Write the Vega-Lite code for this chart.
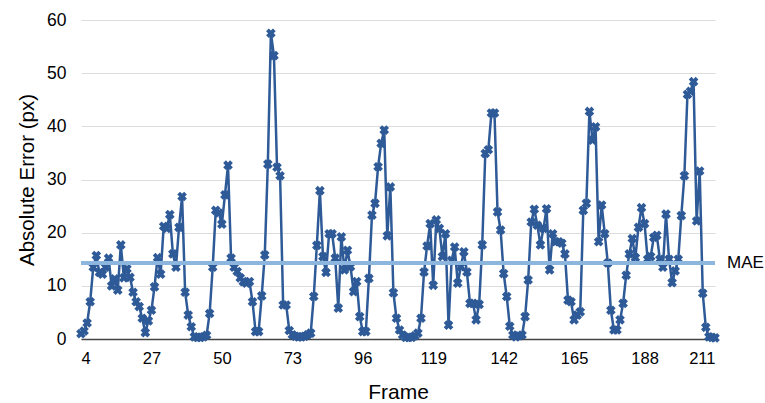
{
  "$schema": "https://vega.github.io/schema/vega-lite/v6.json",
  "width": 634,
  "height": 319,
  "autosize": "none",
  "padding": {"left": 81, "top": 20, "right": 50, "bottom": 64},
  "background": "white",
  "config": {
    "view": {"stroke": null},
    "font": "Liberation Sans"
  },
  "datasets": {
    "err": [
      {"f":4,"v":1.0},{"f":5,"v":1.5},{"f":6,"v":3.0},{"f":7,"v":7.0},{"f":8,"v":13.5},{"f":9,"v":15.7},{"f":10,"v":12.5},{"f":11,"v":12.2},{"f":12,"v":13.5},{"f":13,"v":15.2},
      {"f":14,"v":10.0},{"f":15,"v":11.3},{"f":16,"v":9.2},{"f":17,"v":17.7},{"f":18,"v":11.5},{"f":19,"v":13.2},{"f":20,"v":11.6},{"f":21,"v":8.8},{"f":22,"v":7.0},{"f":23,"v":6.1},
      {"f":24,"v":3.9},{"f":25,"v":1.2},{"f":26,"v":3.4},{"f":27,"v":5.4},{"f":28,"v":9.8},{"f":29,"v":15.3},{"f":30,"v":12.2},{"f":31,"v":21.2},{"f":32,"v":20.8},{"f":33,"v":23.4},
      {"f":34,"v":16.0},{"f":35,"v":13.5},{"f":36,"v":21.0},{"f":37,"v":26.8},{"f":38,"v":8.8},{"f":39,"v":4.5},{"f":40,"v":2.3},{"f":41,"v":0.4},{"f":42,"v":0.3},{"f":43,"v":0.3},
      {"f":44,"v":0.4},{"f":45,"v":0.7},{"f":46,"v":4.8},{"f":47,"v":13.5},{"f":48,"v":24.2},{"f":49,"v":23.7},{"f":50,"v":21.6},{"f":51,"v":27.1},{"f":52,"v":32.7},{"f":53,"v":15.2},
      {"f":54,"v":13.5},{"f":55,"v":12.7},{"f":56,"v":11.5},{"f":57,"v":10.8},{"f":58,"v":10.5},{"f":59,"v":10.8},{"f":60,"v":7.0},{"f":61,"v":1.4},{"f":62,"v":1.4},{"f":63,"v":8.1},
      {"f":64,"v":15.8},{"f":65,"v":32.9},{"f":66,"v":57.5},{"f":67,"v":53.3},{"f":68,"v":32.3},{"f":69,"v":30.7},{"f":70,"v":6.4},{"f":71,"v":6.4},{"f":72,"v":1.6},{"f":73,"v":0.8},
      {"f":74,"v":0.5},{"f":75,"v":0.4},{"f":76,"v":0.4},{"f":77,"v":0.5},{"f":78,"v":0.8},{"f":79,"v":1.1},{"f":80,"v":8.0},{"f":81,"v":17.6},{"f":82,"v":27.9},{"f":83,"v":15.5},
      {"f":84,"v":12.5},{"f":85,"v":19.8},{"f":86,"v":19.8},{"f":87,"v":15.2},{"f":88,"v":5.8},{"f":89,"v":19.2},{"f":90,"v":13.0},{"f":91,"v":16.7},{"f":92,"v":13.6},{"f":93,"v":8.9},
      {"f":94,"v":10.8},{"f":95,"v":4.2},{"f":96,"v":1.4},{"f":97,"v":1.4},{"f":98,"v":11.4},{"f":99,"v":23.3},{"f":100,"v":25.5},{"f":101,"v":32.4},{"f":102,"v":36.8},{"f":103,"v":39.3},
      {"f":104,"v":19.4},{"f":105,"v":28.6},{"f":106,"v":8.7},{"f":107,"v":3.9},{"f":108,"v":1.7},{"f":109,"v":0.75},{"f":110,"v":0.3},{"f":111,"v":0.3},{"f":112,"v":0.3},{"f":113,"v":0.6},
      {"f":114,"v":1.1},{"f":115,"v":3.9},{"f":116,"v":12.6},{"f":117,"v":17.5},{"f":118,"v":21.7},{"f":119,"v":10.1},{"f":120,"v":22.4},{"f":121,"v":20.8},{"f":122,"v":15.5},{"f":123,"v":19.8},
      {"f":124,"v":2.6},{"f":125,"v":14.8},{"f":126,"v":17.3},{"f":127,"v":10.5},{"f":128,"v":13.6},{"f":129,"v":16.4},{"f":130,"v":12.6},{"f":131,"v":6.7},{"f":132,"v":6.7},{"f":133,"v":3.6},
      {"f":134,"v":6.5},{"f":135,"v":17.7},{"f":136,"v":34.9},{"f":137,"v":35.6},{"f":138,"v":42.5},{"f":139,"v":42.5},{"f":140,"v":23.9},{"f":141,"v":20.5},{"f":142,"v":12.3},{"f":143,"v":8.0},
      {"f":144,"v":2.4},{"f":145,"v":0.75},{"f":146,"v":0.4},{"f":147,"v":0.6},{"f":148,"v":0.75},{"f":149,"v":4.2},{"f":150,"v":11.1},{"f":151,"v":22.0},{"f":152,"v":24.4},{"f":153,"v":21.4},
      {"f":154,"v":17.7},{"f":155,"v":20.8},{"f":156,"v":24.5},{"f":157,"v":13.0},{"f":158,"v":19.8},{"f":159,"v":18.3},{"f":160,"v":18.3},{"f":161,"v":18.0},{"f":162,"v":16.0},{"f":163,"v":7.3},
      {"f":164,"v":7.0},{"f":165,"v":3.6},{"f":166,"v":4.5},{"f":167,"v":5.1},{"f":168,"v":24.2},{"f":169,"v":25.5},{"f":170,"v":42.8},{"f":171,"v":37.4},{"f":172,"v":39.9},{"f":173,"v":18.3},
      {"f":174,"v":25.2},{"f":175,"v":19.8},{"f":176,"v":14.3},{"f":177,"v":5.4},{"f":178,"v":1.7},{"f":179,"v":1.7},{"f":180,"v":3.6},{"f":181,"v":6.7},{"f":182,"v":12.0},{"f":183,"v":16.0},
      {"f":184,"v":18.9},{"f":185,"v":15.3},{"f":186,"v":21.0},{"f":187,"v":24.7},{"f":188,"v":21.7},{"f":189,"v":15.0},{"f":190,"v":15.5},{"f":191,"v":19.1},{"f":192,"v":19.5},{"f":193,"v":15.0},
      {"f":194,"v":13.5},{"f":195,"v":23.5},{"f":196,"v":15.0},{"f":197,"v":10.6},{"f":198,"v":12.8},{"f":199,"v":15.0},{"f":200,"v":23.2},{"f":201,"v":30.7},{"f":202,"v":46.0},{"f":203,"v":46.6},
      {"f":204,"v":48.4},{"f":205,"v":22.2},{"f":206,"v":31.6},{"f":207,"v":8.6},{"f":208,"v":2.2},{"f":209,"v":0.4},{"f":210,"v":0.3},{"f":211,"v":0.2}
    ],
    "mae": [{"f": 211, "v": 14.3, "label": "MAE"}]
  },
  "layer": [
    {
      "data": {"name": "err"},
      "mark": {"type": "line", "color": "#2e5a97", "strokeWidth": 2.5},
      "encoding": {
        "x": {
          "field": "f", "type": "quantitative",
          "scale": {"domain": [4, 211], "nice": false, "zero": false},
          "axis": {
            "values": [4, 27, 50, 73, 96, 119, 142, 165, 188, 211],
            "title": "Frame", "grid": false, "ticks": false,
            "domainColor": "#444444", "domainWidth": 1.5,
            "labelFontSize": 16.5, "labelColor": "#000000", "labelPadding": 11,
            "titleFontSize": 21, "titleFontWeight": "normal", "titleColor": "#000000", "titlePadding": 15
          }
        },
        "y": {
          "field": "v", "type": "quantitative",
          "scale": {"domain": [0, 60], "nice": false},
          "axis": {
            "values": [0, 10, 20, 30, 40, 50, 60],
            "title": "Absolute Error (px)", "domain": false, "ticks": false,
            "gridColor": "#dcdcdc", "gridWidth": 1,
            "labelFontSize": 17.5, "labelColor": "#000000", "labelPadding": 15,
            "titleFontSize": 20.5, "titleFontWeight": "normal", "titleColor": "#000000", "titlePadding": 9
          }
        }
      }
    },
    {
      "data": {"name": "err"},
      "mark": {"type": "point", "shape": "cross", "angle": 45, "filled": true, "size": 95, "color": "#2e5a97", "opacity": 1},
      "encoding": {
        "x": {"field": "f", "type": "quantitative"},
        "y": {"field": "v", "type": "quantitative"}
      }
    },
    {
      "data": {"name": "mae"},
      "mark": {"type": "rule", "color": "#8db6df", "strokeWidth": 4},
      "encoding": {
        "y": {"field": "v", "type": "quantitative"}
      }
    },
    {
      "data": {"name": "mae"},
      "mark": {"type": "text", "align": "left", "baseline": "middle", "dx": 12, "fontSize": 17, "color": "#000000"},
      "encoding": {
        "x": {"field": "f", "type": "quantitative"},
        "y": {"field": "v", "type": "quantitative"},
        "text": {"field": "label"}
      }
    }
  ]
}
